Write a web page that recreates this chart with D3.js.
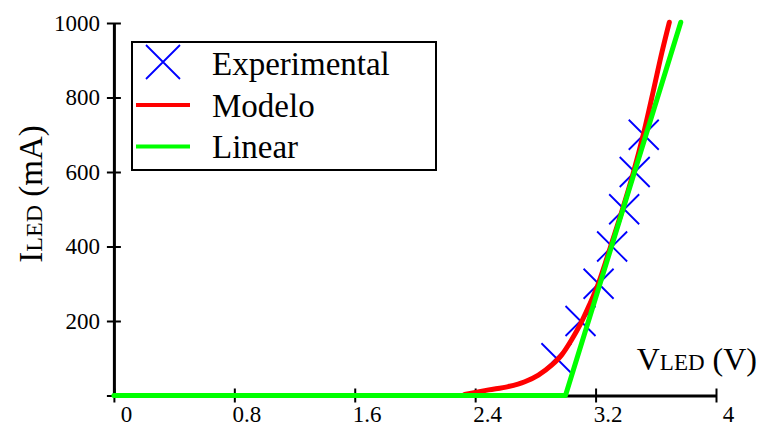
<!DOCTYPE html>
<html lang="en">
<head>
<meta charset="UTF-8">
<title>LED I-V</title>
<style>
    html, body { margin: 0; padding: 0; background: #fff; }
    svg { display: block; font-family: "Liberation Serif", "Times New Roman", serif; }
    .axis path, .axis line { stroke: #000; }
    .axis text { font-family: "Liberation Serif", serif; font-size: 23px; fill: #000; }
</style>
</head>
<body>
<div id="chart"></div>
<script src="https://cdn.jsdelivr.net/npm/d3@7"></script>
<script>
"use strict";

// experimental points (V, mA)
var expV = [2.94, 3.10, 3.22, 3.31, 3.39, 3.46, 3.52];
var expI = [100, 200, 300, 400, 500, 600, 700];

// model curve
var modelV = [2.33, 2.49, 2.62, 2.73, 2.82, 2.91, 2.975, 3.04, 3.10, 3.16, 3.22, 3.30, 3.385, 3.45, 3.52, 3.585, 3.64, 3.69];
var modelI = [3, 15, 24, 37, 55, 82, 109, 149, 192, 244, 302, 400, 508, 597, 705, 820, 920, 1002];

// linear approximation
var linV = [0, 3.0, 3.766];
var linI = [0, 0, 1002];

var xTicks = [0, 0.8, 1.6, 2.4, 3.2, 4];
var yTicks = [0, 200, 400, 600, 800, 1000];

var legendItems = ["Experimental", "Modelo", "Linear"];

(function() {
    var width = 759, height = 427;

    var svg = d3.select("#chart").append("svg")
        .attr("width", width)
        .attr("height", height);

    var x = d3.scaleLinear().domain([0, 4]).range([113.9, 716]);
    var y = d3.scaleLinear().domain([0, 1000]).range([395.5, 23]);

    // x axis
    var gx = svg.append("g")
        .attr("class", "axis")
        .attr("transform", "translate(0," + y(0) + ")")
        .call(d3.axisBottom(x).tickValues(xTicks).tickSize(7).tickSizeOuter(0)
            .tickFormat(function(d) { return String(d); }));
    gx.select(".domain").attr("stroke-width", 3);
    gx.selectAll(".tick line").attr("y1", -7).attr("stroke-width", 2);
    gx.selectAll(".tick text").attr("x", 12).attr("y", 26.5).attr("dy", null);

    // y axis
    var gy = svg.append("g")
        .attr("class", "axis")
        .attr("transform", "translate(" + x(0) + ",0)")
        .call(d3.axisLeft(y).tickValues(yTicks).tickSize(7).tickSizeOuter(0)
            .tickFormat(function(d) { return d === 0 ? "" : String(d); }));
    gy.select(".domain").attr("stroke-width", 3);
    gy.selectAll(".tick line").attr("x1", 7).attr("stroke-width", 2);
    gy.selectAll(".tick text").attr("x", -14).attr("dy", "0.32em");

    // axis titles
    var yl = svg.append("text")
        .attr("transform", "translate(42,194) rotate(-90)")
        .attr("text-anchor", "middle")
        .style("font-size", "33px");
    yl.append("tspan").text("I");
    yl.append("tspan").style("font-size", "24px").text("LED");
    yl.append("tspan").text(" (mA)");

    var xl = svg.append("text")
        .attr("x", 757).attr("y", 370)
        .attr("text-anchor", "end")
        .style("font-size", "32px");
    xl.append("tspan").text("V");
    xl.append("tspan").style("font-size", "23px").text("LED");
    xl.append("tspan").text(" (V)");

    // experimental crosses
    var arm = 15;
    var cross = function(cx, cy, a) {
        return "M" + (cx - a) + "," + (cy - a) + "L" + (cx + a) + "," + (cy + a) +
               "M" + (cx - a) + "," + (cy + a) + "L" + (cx + a) + "," + (cy - a);
    };
    svg.append("g").selectAll("path")
        .data(expV.map(function(v, i) { return [v, expI[i]]; }))
        .enter().append("path")
        .attr("d", function(d) { return cross(x(d[0]), y(d[1]), arm); })
        .attr("stroke", "#0000ff")
        .attr("stroke-width", 1.8)
        .attr("fill", "none");

    var line = d3.line()
        .x(function(d) { return x(d[0]); })
        .y(function(d) { return y(d[1]); });

    svg.append("path")
        .datum(modelV.map(function(v, i) { return [v, modelI[i]]; }))
        .attr("d", line.curve(d3.curveMonotoneX))
        .attr("fill", "none")
        .attr("stroke", "#ff0000")
        .attr("stroke-width", 5)
        .attr("stroke-linecap", "round");

    svg.append("path")
        .datum(linV.map(function(v, i) { return [v, linI[i]]; }))
        .attr("d", line.curve(d3.curveLinear))
        .attr("fill", "none")
        .attr("stroke", "#00ff00")
        .attr("stroke-width", 5)
        .attr("stroke-linecap", "round")
        .attr("stroke-linejoin", "round");

    // legend
    var lg = svg.append("g");
    lg.append("rect")
        .attr("x", 132).attr("y", 42)
        .attr("width", 304).attr("height", 128)
        .attr("fill", "#fff")
        .attr("stroke", "#000")
        .attr("stroke-width", 2);

    lg.append("path")
        .attr("d", cross(163, 62, 17))
        .attr("stroke", "#0000ff")
        .attr("stroke-width", 1.8);
    lg.append("line")
        .attr("x1", 136).attr("x2", 190).attr("y1", 105).attr("y2", 105)
        .attr("stroke", "#ff0000").attr("stroke-width", 4);
    lg.append("line")
        .attr("x1", 136).attr("x2", 190).attr("y1", 146.5).attr("y2", 146.5)
        .attr("stroke", "#00ff00").attr("stroke-width", 4);

    lg.selectAll("text.lab")
        .data(legendItems)
        .enter().append("text")
        .attr("class", "lab")
        .attr("x", 212)
        .attr("y", function(d, i) { return 75 + i * 41.5; })
        .style("font-size", "33px")
        .text(function(d) { return d; });
})();
</script>
</body>
</html>
